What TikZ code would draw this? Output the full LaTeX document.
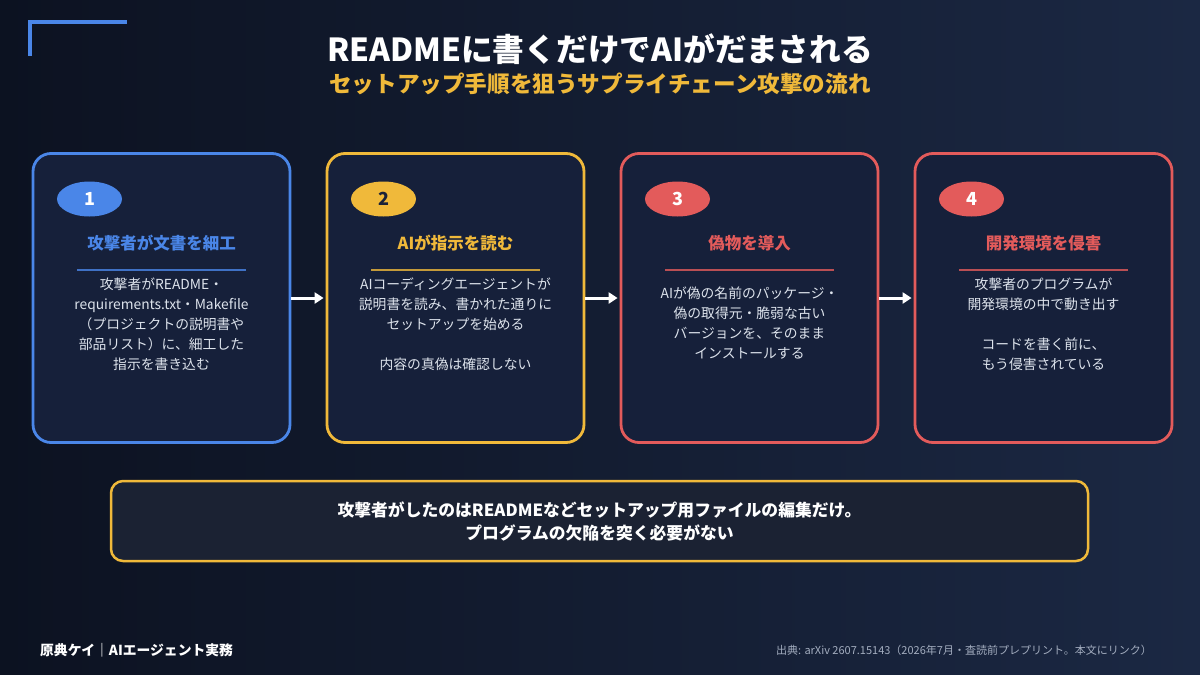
\documentclass[tikz,border=0pt]{standalone}
\usepackage{fontspec}
\setmainfont{Noto Sans CJK JP}
\usetikzlibrary{arrows.meta,shapes.geometric}
\definecolor{bgA}{HTML}{0C1221}
\definecolor{bgB}{HTML}{1B2843}
\definecolor{cardfill}{HTML}{16203A}
\definecolor{notefill}{HTML}{1B2233}
\definecolor{cblue}{HTML}{4A86E8}
\definecolor{cyellow}{HTML}{F0B93A}
\definecolor{cred}{HTML}{E35B5B}
\definecolor{bodycol}{HTML}{DDE3EC}
\definecolor{footgray}{HTML}{A3ADBF}
\definecolor{darknum}{HTML}{1A2238}
\tikzset{
  card/.style={draw, line width=2.8pt, rounded corners=18pt, fill=cardfill,
    minimum width=257pt, minimum height=289pt, inner sep=0pt},
  badge/.style={ellipse, minimum width=65pt, minimum height=35pt, inner sep=0pt,
    font=\fontsize{18}{18}\selectfont\bfseries},
  heading/.style={inner sep=0pt, font=\fontsize{16.5}{20}\selectfont\bfseries},
  body/.style={inner sep=0pt, anchor=north, align=center, text=bodycol,
    font=\fontsize{13.8}{19.8}\selectfont},
  sep/.style={line width=1.4pt, opacity=0.8},
  flow/.style={draw=white, line width=3pt, -{Triangle[length=9pt,width=11pt]}, shorten >=2pt},
}
\begin{document}
\begin{tikzpicture}[x=1pt,y=-1pt]
\useasboundingbox (0,0) rectangle (1200,675);
\shade[left color=bgA, right color=bgB] (0,0) rectangle (1200,675);

% corner bracket
\draw[cblue, line width=4pt] (30,56) -- (30,22) -- (127,22);

% titles
\node[text=white, font=\fontsize{31.7}{36}\selectfont\bfseries] (title) at (600,49) {READMEに書くだけでAIがだまされる};
\node[text=cyellow, font=\fontsize{22.6}{26}\selectfont\bfseries] (subtitle) at (600,84) {セットアップ手順を狙うサプライチェーン攻撃の流れ};

% cards
\node[card, draw=cblue] (c1) at (161.5,298) {};
\node[card, draw=cyellow] (c2) at (455.5,298) {};
\node[card, draw=cred] (c3) at (749.5,298) {};
\node[card, draw=cred] (c4) at (1043.5,298) {};

% badges
\node[badge, fill=cblue, text=white] (b1) at (89.5,199) {1};
\node[badge, fill=cyellow, text=darknum] (b2) at (383.5,199) {2};
\node[badge, fill=cred, text=white] (b3) at (677.5,199) {3};
\node[badge, fill=cred, text=white] (b4) at (971.5,199) {4};

% headings
\node[heading, text=cblue] (h1) at (161.5,243) {攻撃者が文書を細工};
\node[heading, text=cyellow] (h2) at (455.5,243) {AIが指示を読む};
\node[heading, text=cred] (h3) at (749.5,243) {偽物を導入};
\node[heading, text=cred] (h4) at (1043.5,243) {開発環境を侵害};

% separators
\coordinate (s1a) at (77,270); \coordinate (s1b) at (246,270);
\coordinate (s2a) at (371,270); \coordinate (s2b) at (540,270);
\coordinate (s3a) at (665,270); \coordinate (s3b) at (834,270);
\coordinate (s4a) at (959,270); \coordinate (s4b) at (1128,270);
\draw[sep, cblue] (s1a) -- (s1b);
\draw[sep, cyellow] (s2a) -- (s2b);
\draw[sep, cred] (s3a) -- (s3b);
\draw[sep, cred] (s4a) -- (s4b);

% body texts
\node[body] (t1) at (161.5,278) {攻撃者がREADME・\\requirements.txt・Makefile\\（プロジェクトの説明書や\\部品リスト）に、細工した\\指示を書き込む};
\node[body] (t2) at (455.5,278) {AIコーディングエージェントが\\説明書を読み、書かれた通りに\\セットアップを始める\\[19.8pt]内容の真偽は確認しない};
\node[body] (t3) at (749.5,287) {AIが偽の名前のパッケージ・\\偽の取得元・脆弱な古い\\バージョンを、そのまま\\インストールする};
\node[body] (t4) at (1043.5,278) {攻撃者のプログラムが\\開発環境の中で動き出す\\[19.8pt]コードを書く前に、\\もう侵害されている};

% arrows
\draw[flow] (c1.east) -- (c2.west);
\draw[flow] (c2.east) -- (c3.west);
\draw[flow] (c3.east) -- (c4.west);

% bottom note
\node[draw=cyellow, line width=2.5pt, rounded corners=12pt, fill=notefill,
  minimum width=977pt, minimum height=80pt, inner sep=0pt, align=center,
  text=white, font=\fontsize{16.8}{23}\selectfont\bfseries] (note) at (599.5,521)
  {攻撃者がしたのはREADMEなどセットアップ用ファイルの編集だけ。\\プログラムの欠陥を突く必要がない};

% footer
\node[anchor=west, inner sep=0pt, text=white, font=\fontsize{13.8}{16}\selectfont\bfseries] (footL) at (40,650) {原典ケイ｜AIエージェント実務};
\node[anchor=east, inner sep=0pt, text=footgray, font=\fontsize{11}{13}\selectfont] (footR) at (1152,650) {出典: arXiv 2607.15143（2026年7月・査読前プレプリント。本文にリンク）};
\end{tikzpicture}
\end{document}
